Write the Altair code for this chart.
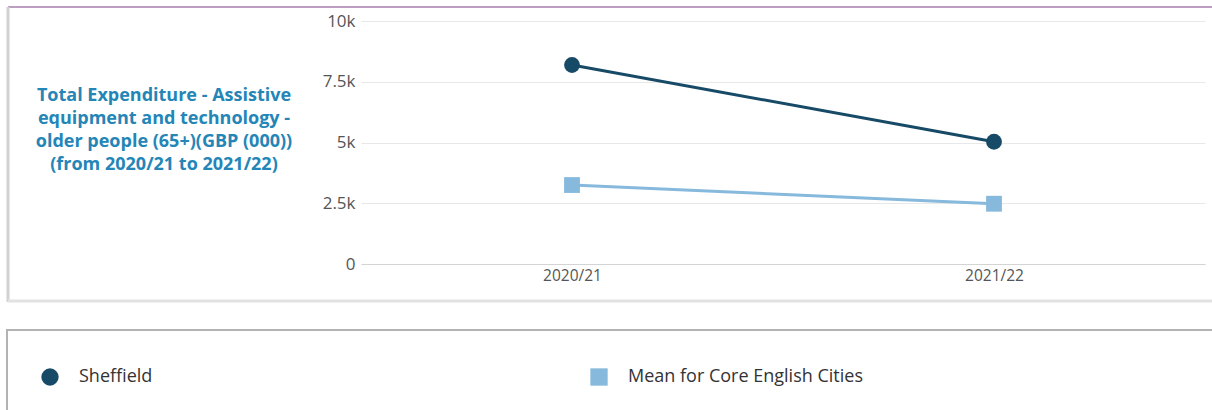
import altair as alt
import pandas as pd

# Values (GBP thousands)
years = ["2020/21", "2021/22"]
sheffield = [8190, 5030]
core_cities_mean = [3250, 2480]
series_names = ["Sheffield", "Mean for Core English Cities"]
series_colors = ["#174a66", "#86b9dc"]
series_shapes = ["circle", "square"]
y_ticks = [0, 2500, 5000, 7500, 10000]
title_lines = [
    "Total Expenditure - Assistive",
    "equipment and technology -",
    "older people (65+)(GBP (000))",
    "(from 2020/21 to 2021/22)",
]

FONT = "Open Sans"

df = pd.DataFrame(
    {
        "year": years * 2,
        "value": sheffield + core_cities_mean,
        "series": [series_names[0]] * len(years) + [series_names[1]] * len(years),
    }
)

W, H = 844, 243          # plot area
LEFT, TOP = 361, 21      # plot origin inside the page
one = pd.DataFrame({"k": [0]})

x_enc = alt.X(
    "year:O",
    scale=alt.Scale(type="point", domain=years, padding=0.5),
    axis=alt.Axis(
        title=None, labelAngle=0, ticks=False, domain=True, domainColor="#d4d4d4",
        labelColor="#555555", labelFontSize=15.5, labelFont=FONT, labelPadding=4,
    ),
)
y_enc = alt.Y(
    "value:Q",
    scale=alt.Scale(domain=[0, 10000], nice=False),
    axis=alt.Axis(
        title=None, values=y_ticks, format=".2~s", ticks=False, domain=False,
        gridColor="#e8e8e8", labelColor="#555555", labelFontSize=17,
        labelFont=FONT, labelPadding=6,
    ),
)
color_enc = alt.Color(
    "series:N",
    scale=alt.Scale(domain=series_names, range=series_colors),
    legend=alt.Legend(
        title=None, orient="none", legendX=-320, legendY=347, direction="horizontal",
        columns=2, columnPadding=437, labelFont=FONT, labelFontSize=18, labelLimit=500,
        labelColor="#333333", labelOffset=20, symbolSize=300, symbolStrokeWidth=0,
        padding=0,
    ),
)

lines = alt.Chart(df).mark_line(strokeWidth=3).encode(
    x=x_enc, y=y_enc, color=color_enc,
)

points = alt.Chart(df).mark_point(filled=True, opacity=1, size=250).encode(
    x=x_enc,
    y=y_enc,
    color=color_enc,
    shape=alt.Shape(
        "series:N", scale=alt.Scale(domain=series_names, range=series_shapes)
    ),
)

# Panel frame around the chart and the legend box
top_line = alt.Chart(one).mark_rule(color="#a77cae", strokeWidth=1.5).encode(
    x=alt.value(8 - LEFT), x2=alt.value(1212 - LEFT), y=alt.value(7 - TOP)
)
panel_left = alt.Chart(one).mark_rule(color="#d2d2d2", strokeWidth=3).encode(
    x=alt.value(8 - LEFT), y=alt.value(7 - TOP), y2=alt.value(302 - TOP)
)
panel_bottom = alt.Chart(one).mark_rule(color="#e2e2e2", strokeWidth=3).encode(
    x=alt.value(8 - LEFT), x2=alt.value(1212 - LEFT), y=alt.value(301 - TOP)
)
legend_box = alt.Chart(one).mark_rect(
    fillOpacity=0, stroke="#b3b3b3", strokeWidth=2
).encode(
    x=alt.value(7 - LEFT), x2=alt.value(1220 - LEFT),
    y=alt.value(330 - TOP), y2=alt.value(420 - TOP),
)

title_text = alt.Chart(one).mark_text(
    font=FONT, fontSize=18, fontWeight="bold", color="#2485b7",
    align="center", baseline="middle", lineHeight=23,
).encode(
    x=alt.value(164 - LEFT), y=alt.value(96 - TOP), text=alt.value(title_lines)
)

chart = (
    alt.layer(top_line, panel_left, panel_bottom, legend_box, title_text, lines, points)
    .properties(
        width=W, height=H,
        autosize=alt.AutoSizeParams(type="none"),
        padding={"left": LEFT, "top": TOP, "right": 1212 - LEFT - W, "bottom": 410 - TOP - H},
        background="white",
    )
    .configure_view(stroke=None)
)

chart.save("out.html", embed_options={"renderer": "svg", "actions": False})
